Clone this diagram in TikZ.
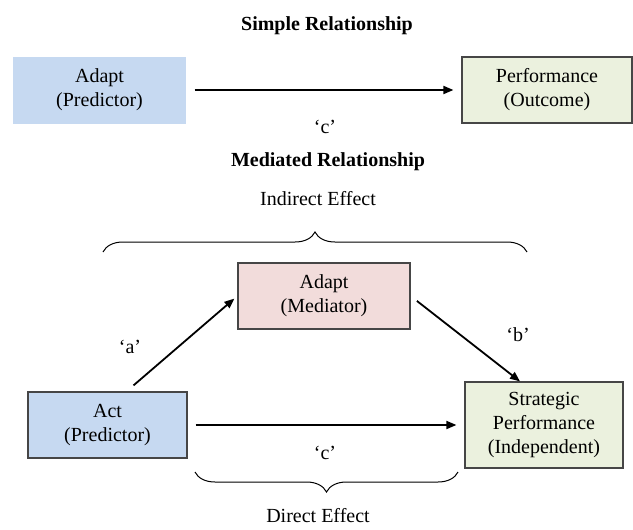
\documentclass[tikz,border=0pt]{standalone}
\usepackage{fontspec}
\setmainfont{Liberation Serif}
\usetikzlibrary{arrows.meta,positioning,decorations.pathreplacing}
\definecolor{predblue}{RGB}{198,217,241}
\definecolor{outgreen}{RGB}{235,241,222}
\definecolor{medpink}{RGB}{242,220,219}
\tikzset{x=0.5pt, y=-0.5pt, % One unit is one pixel of the page, y runs down
        box/.style={ % Sets the properties for each box
            draw=gray!55!black,
            line width=0.6pt,
            align=center,
            inner sep=0pt},
        every edge/.style={ % Sets the properties for each arrow
            draw,
            -{Triangle[length=5pt,width=4pt]},
            line width=0.9pt,
            shorten <=4pt, shorten >=4pt},
        effect brace/.style={ % Curly braces over the paths
            decorate,
            decoration={brace, amplitude=10pt},
            line width=0.5pt}
        }

\begin{document}
\begin{tikzpicture}
    \useasboundingbox (0,0) rectangle (633,530);

    % simple relationship
    \node[font=\bfseries] (simple) at (327,25.5) {Simple Relationship};
    \node[box, draw=none, fill=predblue, minimum width=86.5pt, minimum height=33.5pt] (adapt) at (99.5,90) {Adapt\\(Predictor)};
    \node[box, fill=outgreen, minimum width=85pt, minimum height=33pt] (perf) at (547,90) {Performance\\(Outcome)};
    \node (c1) at (325,127) {`c'};

    % mediated relationship
    \node[font=\bfseries] (mediated) at (328,162) {Mediated Relationship};
    \node (indirect) at (318,199) {Indirect Effect};
    \node[box, fill=medpink, minimum width=86pt, minimum height=33pt] (med) at (324,296) {Adapt\\(Mediator)};
    \node[box, fill=predblue, minimum width=79.5pt, minimum height=33pt] (act) at (107.5,425) {Act\\(Predictor)};
    \node[box, fill=outgreen, minimum width=79pt, minimum height=43pt] (strat) at (544,425) {Strategic\\Performance\\(Independent)};
    \node (la) at (130,347) {`a'};
    \node (lb) at (518,335) {`b'};
    \node (c2) at (325,453) {`c'};
    \node (direct) at (318,516) {Direct Effect};

    \coordinate (a0) at ([xshift=13pt,yshift=3pt]act.north);
    \coordinate (b1) at ([xshift=-12pt]strat.north);

    \draw
        (adapt.east) edge (perf.west)
        (act) edge (strat)
        (a0) edge [shorten <=0pt, shorten >=2pt] (med.west)
        (med.east) edge [shorten >=0pt] (b1);

    \draw[effect brace] (103,252) -- (527,252);
    \draw[effect brace] (458,472) -- (195,472);
\end{tikzpicture}
\end{document}
